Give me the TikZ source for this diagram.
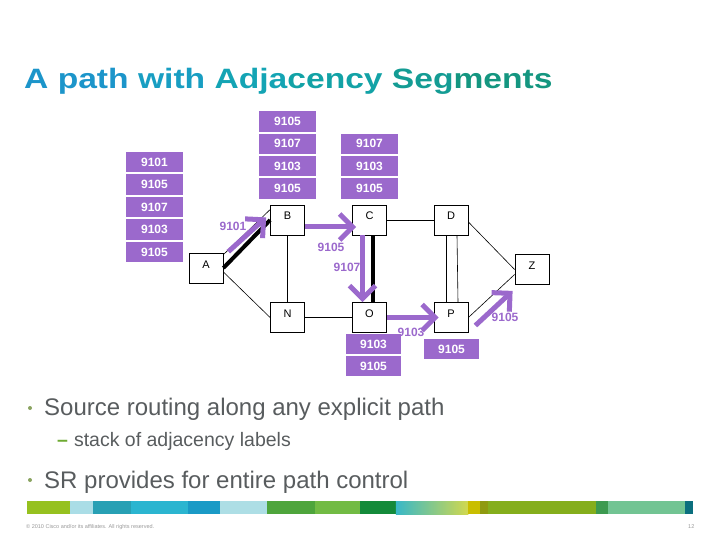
\documentclass[tikz,border=0pt]{standalone}
\usepackage{fontspec}
\setmainfont{Liberation Sans}
\usetikzlibrary{arrows.meta,calc}
\definecolor{lab}{RGB}{155,105,204}
\definecolor{txtgray}{RGB}{88,92,94}
\definecolor{bulgreen}{RGB}{138,163,96}
\definecolor{dashgreen}{RGB}{110,170,50}
\definecolor{tA}{RGB}{28,149,202}
\definecolor{tB}{RGB}{24,158,194}
\definecolor{tC}{RGB}{20,164,180}
\definecolor{tD}{RGB}{18,162,166}
\definecolor{tE}{RGB}{20,156,148}
\definecolor{tF}{RGB}{20,150,128}
\begin{document}
\begin{tikzpicture}[x=1pt,y=-1pt,
  netnode/.style={draw=black, line width=0.8pt, fill=white, minimum width=34pt, minimum height=30pt, inner sep=0pt, text height=8pt, text depth=8pt, font=\fontsize{11}{13}\selectfont},
  stacklab/.style={fill=lab, text=white, minimum width=57pt, minimum height=20.5pt, inner sep=0pt, font=\bfseries\fontsize{12}{14}\selectfont},
  arrlab/.style={text=lab, inner sep=0pt, font=\bfseries\fontsize{12}{14}\selectfont},
  link/.style={line width=0.6pt, draw=black},
  boldlink/.style={line width=4pt, draw=black},
  parrow/.style={line width=5pt, draw=lab, -{Straight Barb[length=13pt 0 0,width=26pt 0 0]}},
]
\useasboundingbox (0,0) rectangle (720,540);

% title
\node[anchor=base west, inner sep=0pt, font=\bfseries\fontsize{28}{32}\selectfont] (title) at (24,89)
  {\scalebox{1.2}[1]{\color{tA}A path \color{tB}with \color{tC}Adja\color{tD}cency \color{tE}Seg\color{tF}ments}};

% network nodes
\node[netnode] (B) at (287.5,220) {B};
\node[netnode] (C) at (369.5,220) {C};
\node[netnode] (D) at (451,220) {D};
\node[netnode] (A) at (206,268) {A};
\node[netnode] (Z) at (532,269.5) {Z};
\node[netnode] (N) at (287.5,317.5) {N};
\node[netnode] (O) at (369.5,317.5) {O};
\node[netnode] (P) at (451,317.5) {P};

% thin links
\draw[link] ($(A.north east)+(0,2)$) -- ($(B.north west)+(0,5)$);
\draw[link] ($(A.east)+(0,4)$) -- (N.west);
\draw[link] (B) -- (N);
\draw[link] (N) -- (O);
\draw[link] (C) -- (D);
\draw[link] ($(D.south)+(-5,0)$) -- ($(P.north)+(-5,0)$);
\draw[link] ($(D.south)+(6,0)$) -- ($(P.north)+(7,0)$);
\draw[link] ($(D.east)+(0,2)$) -- (Z.west);
\draw[link] (P.east) -- ($(Z.west)+(0,5)$);

% thick black links
\draw[boldlink] (A.east) -- (B.west);
\draw[boldlink] ($(C.south)+(3.5,0)$) -- ($(O.north)+(3.5,0)$);

% purple arrows
\draw[parrow] ($(A.north east)+(5,-1)$) -- ($(B.south west)+(-4,-18)$);
\draw[parrow] ($(B.east)+(0,7)$) -- ($(C.west)+(4,7)$);
\draw[parrow] ($(C.south)+(-7,0)$) -- ($(O.north)+(-7,0)$);
\draw[parrow] (O.east) -- ($(P.west)+(5,0)$);
\draw[parrow] ($(P.east)+(7,8)$) -- ($(Z.south west)+(-2,6)$);

% arrow labels
\node[arrlab] (l1) at (233,226) {9101};
\node[arrlab] (l2) at (331,247) {9105};
\node[arrlab] (l3) at (347,267) {9107};
\node[arrlab] (l4) at (411,332) {9103};
\node[arrlab] (l5) at (505,317) {9105};

% left stack
\node[stacklab] (s1) at (154.5,162) {9101};
\node[stacklab] (s2) at (154.5,184.5) {9105};
\node[stacklab] (s3) at (154.5,207) {9107};
\node[stacklab] (s4) at (154.5,229.5) {9103};
\node[stacklab] (s5) at (154.5,252) {9105};
% B stack
\node[stacklab] (b1) at (287.5,121.5) {9105};
\node[stacklab] (b2) at (287.5,143.8) {9107};
\node[stacklab] (b3) at (287.5,166) {9103};
\node[stacklab] (b4) at (287.5,188.3) {9105};
% C stack
\node[stacklab] (c1) at (369.5,143.8) {9107};
\node[stacklab] (c2) at (369.5,166) {9103};
\node[stacklab] (c3) at (369.5,188.3) {9105};
% O stack
\node[stacklab, minimum width=55pt] (o1) at (373.5,344) {9103};
\node[stacklab, minimum width=55pt] (o2) at (373.5,366) {9105};
% P stack
\node[stacklab, minimum width=55pt] (p1) at (451.5,349) {9105};

% bullets
\fill[bulgreen] (30,408) circle (2pt);
\node[anchor=base west, inner sep=0pt, text=txtgray, font=\fontsize{24}{28}\selectfont] (t1) at (44,415) {Source routing along any explicit path};
\node[anchor=base west, inner sep=0pt, text=txtgray, font=\fontsize{19.5}{23}\selectfont] (t2) at (57,446) {{\color{dashgreen}\bfseries –}\hspace{6pt}stack of adjacency labels};
\fill[bulgreen] (30,480) circle (2pt);
\node[anchor=base west, inner sep=0pt, text=txtgray, font=\fontsize{24}{28}\selectfont] (t3) at (44,488) {SR provides for entire path control};

% footer bar
\fill[color={rgb,255:red,150;green,193;blue,31}] (26.6,501) rectangle (69.8,514);
\fill[color={rgb,255:red,170;green,221;blue,230}] (69.8,501) rectangle (92.7,514);
\fill[color={rgb,255:red,40;green,160;blue,180}] (92.7,501) rectangle (130.9,514);
\fill[color={rgb,255:red,43;green,181;blue,208}] (130.9,501) rectangle (188.2,514);
\fill[color={rgb,255:red,26;green,154;blue,198}] (188.2,501) rectangle (220.4,514);
\fill[color={rgb,255:red,173;green,222;blue,229}] (220.4,501) rectangle (267.2,514);
\fill[color={rgb,255:red,78;green,165;blue,60}] (267.2,501) rectangle (315,514);
\fill[color={rgb,255:red,114;green,187;blue,68}] (315,501) rectangle (360.4,514);
\fill[color={rgb,255:red,20;green,138;blue,58}] (360.4,501) rectangle (395.8,514);
\shade[left color={rgb,255:red,56;green,184;blue,200}, right color={rgb,255:red,210;green,216;blue,78}] (395.8,501) rectangle (468.3,514);
\fill[color={rgb,255:red,201;green,190;blue,0}] (468.3,501) rectangle (479.8,514);
\fill[color={rgb,255:red,143;green,154;blue,16}] (479.8,501) rectangle (487.6,514);
\fill[color={rgb,255:red,133;green,174;blue,28}] (487.6,501) rectangle (596,514);
\fill[color={rgb,255:red,60;green,154;blue,80}] (596,501) rectangle (608.3,514);
\fill[color={rgb,255:red,114;green,196;blue,147}] (608.3,501) rectangle (685,514);
\fill[color={rgb,255:red,11;green,111;blue,126}] (685,501) rectangle (693.3,514);

% footer text
\node[anchor=base west, inner sep=0pt, text=gray!80, font=\fontsize{5.5}{7}\selectfont] (copy) at (26,528) {© 2010 Cisco and/or its affiliates. All rights reserved.};
\node[anchor=base west, inner sep=0pt, text=gray!80, font=\fontsize{5.5}{7}\selectfont] (pg) at (688,528) {12};
\end{tikzpicture}
\end{document}
